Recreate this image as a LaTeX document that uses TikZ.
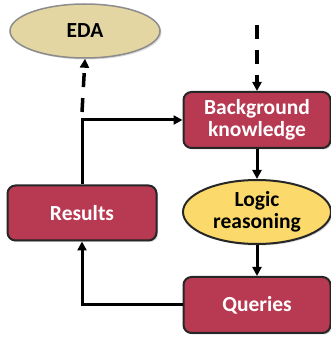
\documentclass[tikz,border=0pt]{standalone}
\usepackage{fontspec}
\setmainfont{Carlito}
\usetikzlibrary{shapes.geometric,arrows.meta,shadows}
\definecolor{boxred}{HTML}{B83A52}
\definecolor{edatan}{HTML}{E4D6A2}
\definecolor{logicyel}{HTML}{FBD96B}
\tikzset{
  x=1pt, y=1pt,
  soft/.style={drop shadow={opacity=0.3, shadow xshift=1.5pt, shadow yshift=-1.5pt}},
  lbl/.style={font=\fontsize{21.5}{22}\selectfont\bfseries, align=center},
  redbox/.style={lbl, soft, draw=black!85, line width=2pt, fill=boxred, text=white,
    rounded corners=8pt, minimum width=147pt, minimum height=56pt, inner sep=0pt},
  oval/.style={lbl, soft, ellipse, inner sep=0pt, text=black},
  flow/.style={line width=3pt, -{Triangle[length=9pt,width=9pt]}},
  dashflow/.style={flow, line width=3.5pt, dash pattern=on 14pt off 11pt}
}
\begin{document}
\begin{tikzpicture}
  \useasboundingbox (0,0) rectangle (331,338);
  % nodes
  \node[oval, draw=black!45, line width=1.5pt, fill=edatan,
        minimum width=150pt, minimum height=54pt] (eda) at (85,307) {EDA};
  \node[redbox] (bg) at (257,218) {Background\\knowledge};
  \node[oval, draw=black!85, line width=2pt, fill=logicyel,
        minimum width=148pt, minimum height=64pt] (logic) at (257,126) {Logic\\reasoning};
  \node[redbox] (qry) at (257,33) {Queries};
  \node[redbox, minimum width=149pt, minimum height=55pt] (res) at (82,125) {Results};
  \coordinate (src) at (257,313);
  \coordinate (bend) at (82,218);
  \coordinate (up) at (82,226);
  % connectors
  \draw[dashflow] (src) -- (bg.north);
  \draw[flow] (bg) -- (logic);
  \draw[flow] (logic) -- (qry);
  \draw[flow] (qry.west) -| (res.south);
  \draw[flow] (res.north) -- (bend) -- (bg.west);
  \draw[dashflow] (up) -- (eda.south);
\end{tikzpicture}
\end{document}
